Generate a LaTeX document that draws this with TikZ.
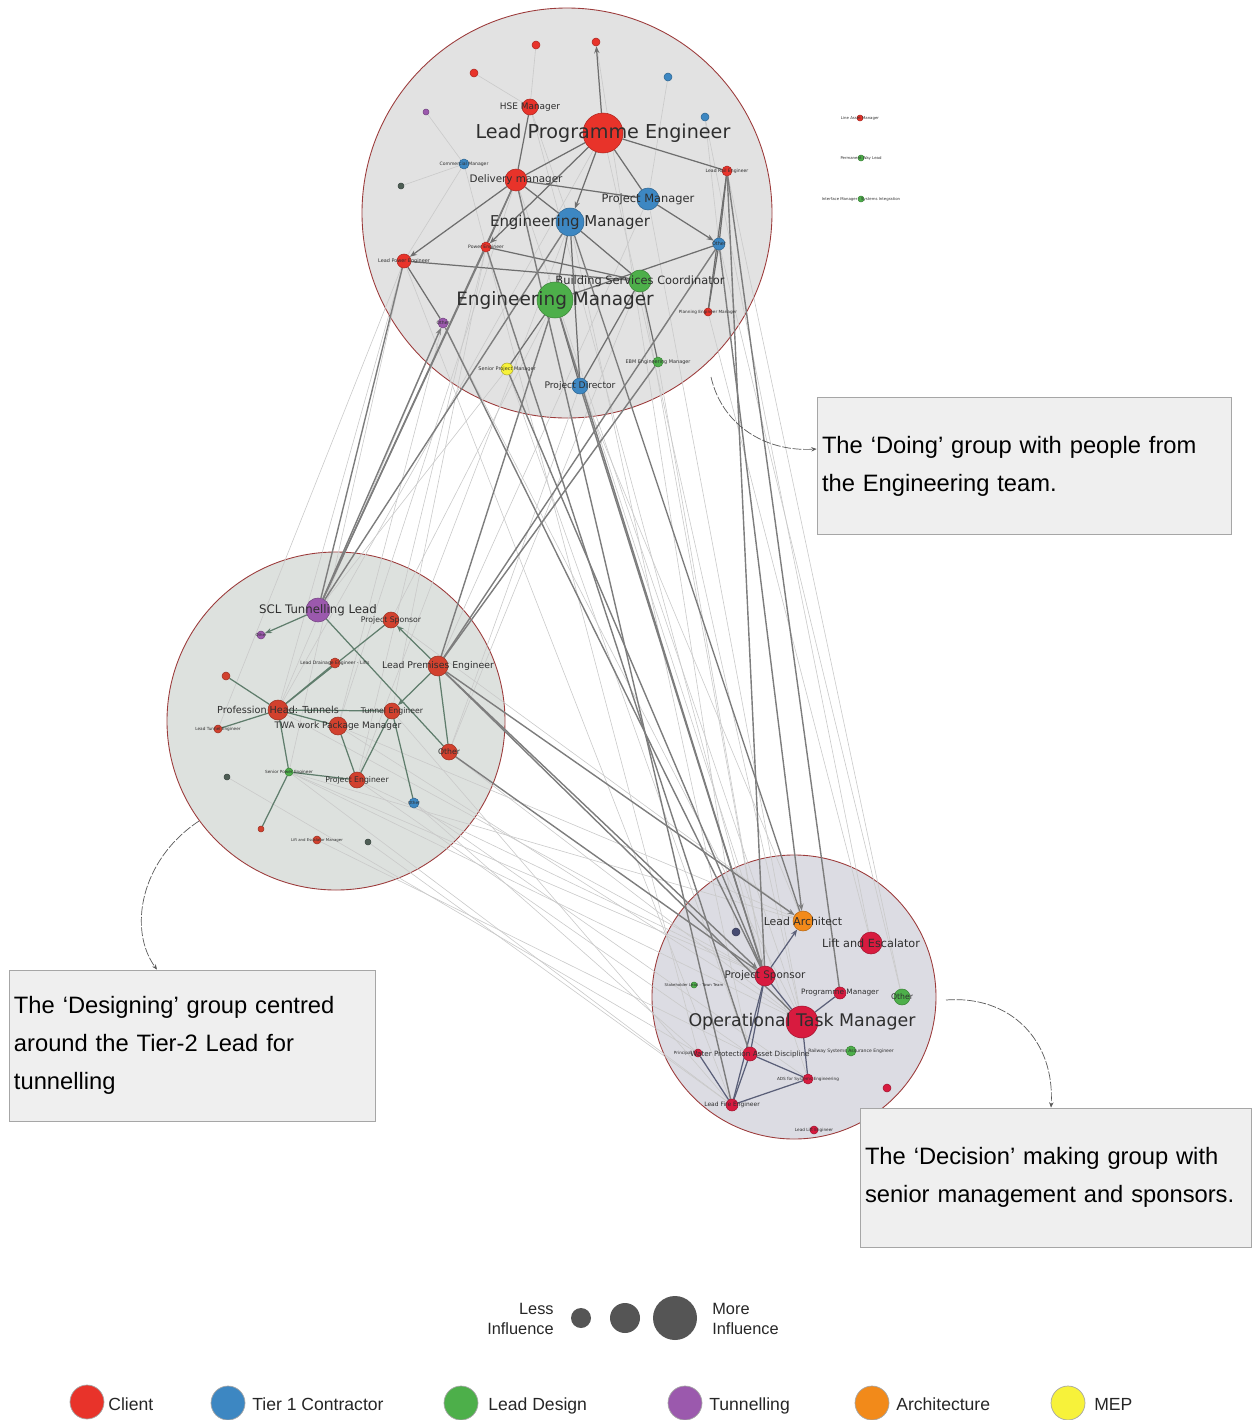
\documentclass[tikz,border=0pt]{standalone}
\usepackage{fontspec}
\setmainfont{DejaVu Sans}
\newfontfamily\boxfont{Liberation Sans}
\usetikzlibrary{arrows.meta}

\definecolor{Client}{HTML}{E8332A}
\definecolor{ClientL}{HTML}{D2412E}
\definecolor{ClientD}{HTML}{D81B3F}
\definecolor{Tier}{HTML}{3D87C2}
\definecolor{LeadDesign}{HTML}{4DAF4A}
\definecolor{Tunnel}{HTML}{9B59AD}
\definecolor{Arch}{HTML}{F28A1A}
\definecolor{MEP}{HTML}{F7F23A}
\definecolor{DarkDot}{HTML}{4E5E55}
\definecolor{NavyDot}{HTML}{474C72}
\definecolor{TopFill}{HTML}{E2E2E2}
\definecolor{LeftFill}{HTML}{DDE1DE}
\definecolor{DecFill}{HTML}{DCDCE3}
\definecolor{Rim}{HTML}{9C3B3B}
\definecolor{LabelGray}{HTML}{2E2E2E}
\definecolor{EdgeGray}{HTML}{6E6E6E}
\definecolor{EdgeGreen}{HTML}{5F7D6C}
\definecolor{EdgeSlate}{HTML}{5A5F78}
\definecolor{Faint}{HTML}{CACACA}
\definecolor{BoxFill}{HTML}{EFEFEF}
\definecolor{InfGray}{HTML}{555555}

\pgfdeclarelayer{bg}
\pgfdeclarelayer{edges}
\pgfsetlayers{bg,edges,main}

\tikzset{
  pn/.style={circle, inner sep=0pt, minimum size=#1*0.4mm, line width=0.3pt},
  client/.style={pn=#1, fill=Client, draw=Client!75!black},
  clientl/.style={pn=#1, fill=ClientL, draw=ClientL!75!black},
  clientd/.style={pn=#1, fill=ClientD, draw=ClientD!75!black},
  tier/.style={pn=#1, fill=Tier, draw=Tier!75!black},
  design/.style={pn=#1, fill=LeadDesign, draw=LeadDesign!75!black},
  tunnel/.style={pn=#1, fill=Tunnel, draw=Tunnel!75!black},
  arch/.style={pn=#1, fill=Arch, draw=Arch!75!black},
  mep/.style={pn=#1, fill=MEP, draw=MEP!70!black},
  darkdot/.style={pn=#1, fill=DarkDot, draw=DarkDot!75!black},
  navydot/.style={pn=#1, fill=NavyDot, draw=NavyDot!75!black},
  lbl/.style={font=\fontsize{#1}{#1}\selectfont, text=LabelGray, inner sep=0pt},
  tedge/.style={draw=EdgeGray, line width=0.7pt},
  ledge/.style={draw=EdgeGreen, line width=0.7pt},
  dedge/.style={draw=EdgeSlate, line width=0.7pt},
  xedge/.style={draw=EdgeGray!90, line width=0.8pt},
  faint/.style={draw=Faint, line width=0.35pt},
  arr/.style={-{Stealth[length=4pt, width=3pt]}},
  callout/.style={rectangle, draw=black!35, fill=BoxFill, line width=0.5pt, align=left,
    inner xsep=1mm, font=\boxfont\fontsize{13.5}{21.6}\selectfont},
  callline/.style={draw=black!65, line width=0.4pt, dash pattern=on 5pt off 1pt,
    -{Stealth[length=3pt, width=2.5pt]}},
  infl/.style={circle, fill=InfGray, inner sep=0pt, minimum size=#1*0.4mm},
  legdot/.style={circle, draw=black!35, line width=0.4pt, inner sep=0pt, minimum size=6.8mm},
  legtxt/.style={font=\boxfont\fontsize{10}{11.4}\selectfont, inner sep=0pt, text=black!85},
}

\begin{document}
\begin{tikzpicture}[x=0.2mm, y=-0.2mm]
\useasboundingbox (0,0) rectangle (1252,1420);

% group circles
\begin{pgfonlayer}{bg}
    \draw[fill=TopFill, draw=Rim, line width=0.5pt] (567,213) circle [radius=41mm];
    \draw[fill=LeftFill, draw=Rim, line width=0.5pt] (336,721) circle [radius=33.8mm];
    \draw[fill=DecFill, draw=Rim, line width=0.5pt] (794,997) circle [radius=28.4mm];
\end{pgfonlayer}

% doing group
\node[client=20, label={[lbl=10.9]center:Lead Programme Engineer}] (T1) at (603,133) {};
\node[client=8, label={[lbl=5.1]center:HSE Manager}] (T2) at (530,107) {};
\node[client=11, label={[lbl=5.9]center:Delivery manager}] (T3) at (516,180) {};
\node[tier=11, label={[lbl=6.5]center:Project Manager}] (T4) at (648,199) {};
\node[tier=14, label={[lbl=8.5]center:Engineering Manager}] (T5) at (570,222) {};
\node[design=11, label={[lbl=6.5]center:Building Services Coordinator}] (T6) at (640,281) {};
\node[design=18, label={[lbl=10.5]center:Engineering Manager}] (T7) at (555,300) {};
\node[client=7, label={[lbl=2.8]center:Lead Power Engineer}] (T8) at (404,261) {};
\node[client=5, label={[lbl=2.6]center:Power Engineer}] (T9) at (486,247) {};
\node[tier=5, label={[lbl=2.6]center:Commercial Manager}] (T10) at (464,164) {};
\node[client=5, label={[lbl=2.6]center:Lead Rail Engineer}] (T11) at (727,171) {};
\node[tier=6, label={[lbl=2.8]center:Other}] (T12) at (719,244) {};
\node[tunnel=5, label={[lbl=2.6]center:Other}] (T13) at (443,323) {};
\node[client=4, label={[lbl=2.4]center:Planning Engineer Manager}] (T14) at (708,312) {};
\node[mep=6, label={[lbl=2.8]center:Senior Project Manager}] (T15) at (507,369) {};
\node[design=5, label={[lbl=2.8]center:EBM Engineering Manager}] (T16) at (658,362) {};
\node[tier=8, label={[lbl=5.2]center:Project Director}] (T17) at (580,386) {};
\node[client=4] (T18) at (536,45) {};
\node[client=4] (T19) at (596,42) {};
\node[client=4] (T20) at (474,73) {};
\node[tunnel=3] (T21) at (426,112) {};
\node[tier=4] (T22) at (668,77) {};
\node[tier=4] (T23) at (705,117) {};
\node[darkdot=3] (T24) at (401,186) {};

% loose nodes
\node[client=3, label={[lbl=2.2]center:Line Asset Manager}] (R1) at (860,118) {};
\node[design=3, label={[lbl=2.2]center:Permanent Way Lead}] (R2) at (861,158) {};
\node[design=3, label={[lbl=2.2]center:Interface Manager - Systems Integration}] (R3) at (861,199) {};

% designing group
\node[tunnel=12, label={[lbl=6.7]center:SCL Tunnelling Lead}] (L1) at (318,610) {};
\node[clientl=8, label={[lbl=4.4]center:Project Sponsor}] (L2) at (391,620) {};
\node[tunnel=4, label={[lbl=2.2]center:Other}] (L3) at (261,635) {};
\node[clientl=10, label={[lbl=5.3]center:Lead Premises Engineer}] (L4) at (438,666) {};
\node[clientl=5, label={[lbl=2.6]center:Lead Drainage Engineer - Lifts}] (L5) at (335,663) {};
\node[clientl=4] (L6) at (226,676) {};
\node[clientl=10, label={[lbl=5.5]center:{Profession Head: Tunnels}}] (L7) at (278,710) {};
\node[clientl=8, label={[lbl=4.4]center:Tunnel Engineer}] (L8) at (392,711) {};
\node[clientl=9, label={[lbl=5.1]center:TWA work Package Manager}] (L9) at (338,726) {};
\node[clientl=4, label={[lbl=2.4]center:Lead Tunnel Engineer}] (L10) at (218,729) {};
\node[clientl=8, label={[lbl=4.4]center:Other}] (L11) at (449,752) {};
\node[design=4, label={[lbl=2.4]center:Senior Power Engineer}] (L12) at (289,772) {};
\node[darkdot=3] (L13) at (227,777) {};
\node[clientl=8, label={[lbl=4.4]center:Project Engineer}] (L14) at (357,780) {};
\node[tier=5, label={[lbl=2.4]center:Other}] (L15) at (414,803) {};
\node[clientl=3] (L16) at (261,829) {};
\node[clientl=4, label={[lbl=2.2]center:Lift and Escalator Manager}] (L17) at (317,840) {};
\node[darkdot=3] (L18) at (368,842) {};

% decision group
\node[arch=10, label={[lbl=6.2]center:Lead Architect}] (D1) at (803,921) {};
\node[clientd=11, label={[lbl=6.4]center:Lift and Escalator}] (D2) at (871,943) {};
\node[navydot=4] (D3) at (736,932) {};
\node[clientd=10, label={[lbl=5.9]center:Project Sponsor}] (D4) at (765,976) {};
\node[clientd=6, label={[lbl=4.2]center:Programme Manager}] (D5) at (840,993) {};
\node[design=8, label={[lbl=4.4]center:Other}] (D6) at (902,997) {};
\node[clientd=16, label={[lbl=9.9]center:Operational Task Manager}] (D7) at (802,1022) {};
\node[design=3, label={[lbl=2.2]center:Stakeholder Lead - Town Team}] (D8) at (694,985) {};
\node[clientd=4, label={[lbl=2.4, label distance=0.3mm]left:Principal}] (D9) at (698,1053) {};
\node[clientd=7, label={[lbl=4.1]center:Water Protection Asset Discipline}] (D10) at (750,1054) {};
\node[design=5, label={[lbl=2.6]center:Railway Systems Assurance Engineer}] (D11) at (851,1051) {};
\node[clientd=5, label={[lbl=2.4]center:ADS for Systems Engineering}] (D12) at (808,1079) {};
\node[clientd=4] (D13) at (887,1088) {};
\node[clientd=6, label={[lbl=3.4]center:Lead Fire Engineer}] (D14) at (732,1105) {};
\node[clientd=4, label={[lbl=2.4]center:Lead Lift Engineer}] (D15) at (814,1130) {};

\begin{pgfonlayer}{edges}
    % faint links
    \foreach \a/\b in {T18/T2, T20/T2, T21/T10, T24/T10, T22/T4, T23/T12, T10/T8, T2/T5,
        T1/L7, T3/L9, T5/L14, T7/L2, T9/L8, T17/L11, T15/L1, T16/L4, T6/L11, T8/L7,
        T8/L10, T13/L7, T4/L4, T8/L12, T9/L14, T13/L9,
        L7/D4, L9/D7, L14/D10, L12/D4, L12/D7, L12/D14, L15/D12, L11/D7, L9/D1,
        L8/D14, L13/D9, L17/D10, L14/D4, L12/D1, L2/D1, L15/D9, L18/D14,
        T1/D7, T2/D4, T3/D7, T4/D7, T5/D10, T6/D4, T7/D12, T8/D14, T10/D9, T13/D7,
        T15/D10, T17/D1, T19/D3, T12/D6, T14/D2, T16/D4, T23/D2, T11/D6}
        \draw[faint] (\a) to (\b);

    % doing group links
    \draw[tedge, arr] (T1) to (T19);
    \draw[tedge] (T1) to (T3);
    \draw[tedge, arr] (T1) to (T5);
    \draw[tedge] (T1) to (T4);
    \draw[tedge] (T1) to (T11);
    \draw[tedge, arr] (T1) to (T9);
    \draw[tedge] (T2) to (T3);
    \draw[tedge, arr] (T3) to (T8);
    \draw[tedge] (T3) to (T5);
    \draw[tedge] (T3) to (T4);
    \draw[tedge] (T3) to (T9);
    \draw[tedge] (T5) to (T7);
    \draw[tedge] (T5) to (T6);
    \draw[tedge] (T5) to (T17);
    \draw[tedge, arr] (T4) to (T12);
    \draw[tedge] (T11) to (T12);
    \draw[tedge] (T11) to (T14);
    \draw[tedge] (T12) to (T14);
    \draw[tedge] (T12) to (T7);
    \draw[tedge] (T7) to (T17);
    \draw[tedge] (T7) to (T15);
    \draw[tedge] (T8) to (T13);
    \draw[tedge] (T8) to (T6);
    \draw[tedge] (T9) to (T6);
    \draw[tedge] (T6) to (T16);
    \draw[tedge] (T6) to (T17);

    % designing group links
    \draw[ledge, arr] (L1) to (L3);
    \draw[ledge] (L1) to (L11);
    \draw[ledge, arr] (L4) to (L2);
    \draw[ledge, arr] (L4) to (L8);
    \draw[ledge] (L2) to (L7);
    \draw[ledge] (L5) to (L7);
    \draw[ledge] (L6) to (L7);
    \draw[ledge] (L7) to (L8);
    \draw[ledge] (L7) to (L9);
    \draw[ledge] (L7) to (L10);
    \draw[ledge] (L8) to (L15);
    \draw[ledge] (L8) to (L14);
    \draw[ledge] (L9) to (L14);
    \draw[ledge] (L12) to (L16);
    \draw[ledge] (L12) to (L7);
    \draw[ledge] (L12) to (L14);
    \draw[ledge] (L11) to (L4);

    % decision group links
    \draw[dedge, arr] (D4) to (D1);
    \draw[dedge] (D4) to (D7);
    \draw[dedge] (D4) to (D10);
    \draw[dedge] (D4) to (D14);
    \draw[dedge] (D10) to (D14);
    \draw[dedge] (D9) to (D14);
    \draw[dedge] (D12) to (D14);
    \draw[dedge] (D7) to (D12);
    \draw[dedge] (D5) to (D7);
    \draw[dedge] (D10) to (D12);

    % links between groups
    \draw[xedge, arr] (L1) to (T13);
    \draw[xedge] (L1) to (T5);
    \draw[xedge] (L1) to (T9);
    \draw[xedge] (L1) to (T3);
    \draw[xedge] (L1) to (T8);
    \draw[xedge] (L4) to (T7);
    \draw[xedge] (L4) to (T16);
    \draw[xedge] (L4) to (T12);
    \draw[xedge, arr] (L4) to (D1);
    \draw[xedge, arr] (L4) to (D4);
    \draw[xedge] (L4) to (D7);
    \draw[xedge] (L11) to (D4);
    \draw[xedge] (T13) to (D4);
    \draw[xedge, arr] (T7) to (D4);
    \draw[xedge] (T5) to (D1);
    \draw[xedge] (T17) to (D4);
    \draw[xedge] (T15) to (D4);
    \draw[xedge, arr] (T12) to (D1);
    \draw[xedge] (T11) to (D5);
    \draw[xedge] (T11) to (D4);
    \draw[xedge] (T3) to (D14);
    \draw[xedge] (T9) to (D10);
\end{pgfonlayer}

% callouts
\node[callout, minimum width=82.8mm, minimum height=27.4mm, text width=80.8mm] (doing) at (1024,466)
    {The ‘Doing’ group with people from\\the Engineering team.};
\node[callout, minimum width=73.2mm, minimum height=30.2mm, text width=71.2mm] (designing) at (192,1045.5)
    {The ‘Designing’ group centred\\around the Tier-2 Lead for\\tunnelling};
\node[callout, minimum width=78.2mm, minimum height=27.8mm, text width=76.2mm] (decision) at (1055.5,1177.5)
    {The ‘Decision’ making group with\\senior management and sponsors.};

\coordinate (c1) at (711,377);
\coordinate (c2) at (199,821);
\coordinate (c3) at (946,1000);
\draw[callline] (c1) .. controls (722,425) and (765,452) .. ([yshift=3.4mm]doing.west);
\draw[callline] (c2) .. controls (140,860) and (128,930) .. ([xshift=-7mm]designing.north);
\draw[callline] (c3) .. controls (1010,995) and (1055,1040) .. ([xshift=-0.9mm]decision.north);

% influence legend
\node[infl=10] (I1) at (581,1318) {};
\node[infl=15] (I2) at (625,1318) {};
\node[infl=22] (I3) at (675,1318) {};
\node[legtxt, font=\boxfont\fontsize{9.3}{11.4}\selectfont, align=right, anchor=east] (less) at (554,1319) {Less\\Influence};
\node[legtxt, font=\boxfont\fontsize{9.3}{11.4}\selectfont, align=left, anchor=west] (more) at (712,1319) {More\\Influence};

% colour legend
\node[legdot, fill=Client] (G1) at (87,1402) {};
\node[legdot, fill=Tier] (G2) at (228,1403) {};
\node[legdot, fill=LeadDesign] (G3) at (461,1403) {};
\node[legdot, fill=Tunnel] (G4) at (685,1403) {};
\node[legdot, fill=Arch] (G5) at (872,1403) {};
\node[legdot, fill=MEP] (G6) at (1068,1403) {};
\node[legtxt, anchor=base west] at (108,1410) {Client};
\node[legtxt, anchor=base west] at (252,1410) {Tier 1 Contractor};
\node[legtxt, anchor=base west] at (488,1410) {Lead Design};
\node[legtxt, anchor=base west] at (709,1410) {Tunnelling};
\node[legtxt, anchor=base west] at (896,1410) {Architecture};
\node[legtxt, anchor=base west] at (1094,1410) {MEP};
\end{tikzpicture}
\end{document}
